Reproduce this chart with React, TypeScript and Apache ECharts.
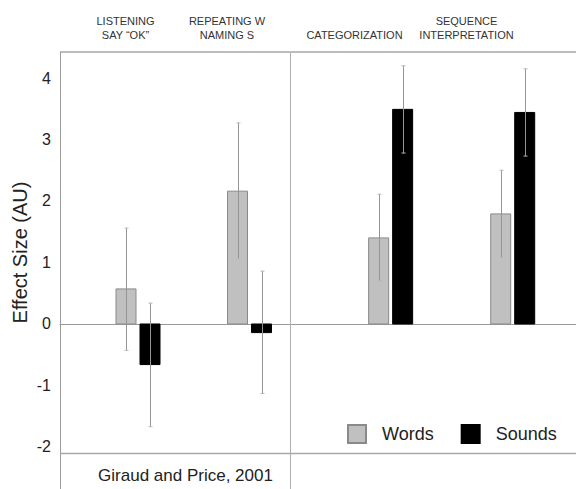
import { useEffect, useRef } from "react";
import * as echarts from "echarts";

// ---- data ----
const categories = ['LISTENING\nSAY “OK”', "REPEATING W\nNAMING S", "CATEGORIZATION", "SEQUENCE\nINTERPRETATION"];
const panelOf = [0, 0, 1, 1];
const seriesNames = ["Words", "Sounds"];
const wordsMean = [0.57, 2.16, 1.4, 1.79];
const wordsLow = [-0.43, 1.06, 0.7, 1.08];
const wordsHigh = [1.56, 3.27, 2.11, 2.5];
const soundsMean = [-0.66, -0.14, 3.49, 3.44];
const soundsLow = [-1.67, -1.13, 2.78, 2.73];
const soundsHigh = [0.34, 0.86, 4.2, 4.15];
const yTicks = [-2, -1, 0, 1, 2, 3, 4];
const yAxisTitle = "Effect Size (AU)";
const sourceNote = "Giraud and Price, 2001";

const FONT = "Liberation Sans, Arial, Helvetica, sans-serif";

export default function App() {
  const ref = useRef<HTMLDivElement>(null);

  useEffect(() => {
    if (!ref.current) return;
    const chart = echarts.init(ref.current, null, { renderer: "svg" });

    const Y_MIN = -2.098;
    const Y_MAX = 4.423;
    const xRanges = [
      { min: -0.6996, max: 1.3632 },
      { min: -0.8245, max: 1.5184 },
    ];
    const headerX = [125.5, 227, 354.5, 466.5];

    const panelData = (p: number, mean: number[], lo: number[], hi: number[]) => {
      const out: number[][] = [];
      let k = 0;
      for (let i = 0; i < categories.length; i++) {
        if (panelOf[i] !== p) continue;
        out.push([k, mean[i], lo[i], hi[i]]);
        k++;
      }
      return out;
    };

    const makeRender = (side: number, fill: string, stroke: string) => (params: any, api: any) => {
      const x = api.value(0);
      const m = api.value(1);
      const lo = api.value(2);
      const hi = api.value(3);
      const base = api.coord([x, 0]);
      const top = api.coord([x, m]);
      const pLo = api.coord([x, lo]);
      const pHi = api.coord([x, hi]);
      const c = base[0];
      const w = 20;
      const x0 = side < 0 ? c - 22 : c + 2;
      const bx = Math.round(x0 + w / 2) + 0.5;
      return {
        type: "group",
        children: [
          {
            type: "rect",
            shape: { x: x0, y: Math.min(base[1], top[1]), width: w, height: Math.abs(top[1] - base[1]) },
            style: { fill, stroke, lineWidth: 1 },
          },
          {
            type: "line",
            shape: { x1: bx, y1: pLo[1], x2: bx, y2: pHi[1] },
            style: { stroke: "#959595", lineWidth: 1 },
          },
          {
            type: "line",
            shape: { x1: bx - 2, y1: pLo[1], x2: bx + 2, y2: pLo[1] },
            style: { stroke: "#b8b8b8", lineWidth: 1 },
          },
          {
            type: "line",
            shape: { x1: bx - 2, y1: pHi[1], x2: bx + 2, y2: pHi[1] },
            style: { stroke: "#b8b8b8", lineWidth: 1 },
          },
        ],
      };
    };

    const wordsStyle = { color: "#c0c0c0", borderColor: "#8a8a8a", borderWidth: 1 };
    const soundsStyle = { color: "#000000", borderColor: "#000000", borderWidth: 1 };

    const series: any[] = [];
    [0, 1].forEach((p) => {
      series.push({
        type: "custom",
        name: seriesNames[0],
        xAxisIndex: p,
        yAxisIndex: p,
        itemStyle: wordsStyle,
        renderItem: makeRender(-1, wordsStyle.color, wordsStyle.borderColor),
        encode: { x: 0, y: [1, 2, 3] },
        data: panelData(p, wordsMean, wordsLow, wordsHigh),
        z: 3,
      });
      series.push({
        type: "custom",
        name: seriesNames[1],
        xAxisIndex: p,
        yAxisIndex: p,
        itemStyle: soundsStyle,
        renderItem: makeRender(1, soundsStyle.color, soundsStyle.borderColor),
        encode: { x: 0, y: [1, 2, 3] },
        data: panelData(p, soundsMean, soundsLow, soundsHigh),
        z: 3,
      });
    });

    const headerTexts = categories.map((c, i) => ({
      type: "text",
      x: headerX[i],
      y: 42,
      style: {
        text: c,
        fill: "#333",
        font: `11px ${FONT}`,
        align: "center",
        verticalAlign: "bottom",
        lineHeight: 14,
      },
    }));

    const option: any = {
      animation: false,
      backgroundColor: "#ffffff",
      textStyle: { fontFamily: FONT },
      grid: [
        { left: 60, top: 52, width: 230, height: 401 },
        { left: 290, top: 52, width: 287, height: 401 },
      ],
      xAxis: [0, 1].map((p) => ({
        type: "value",
        gridIndex: p,
        min: xRanges[p].min,
        max: xRanges[p].max,
        axisLine: { show: true, onZero: true, lineStyle: { color: "#9a9a9a", width: 1 } },
        axisTick: { show: false },
        axisLabel: { show: false },
        splitLine: { show: false },
      })),
      yAxis: [
        {
          type: "value",
          gridIndex: 0,
          min: Y_MIN,
          max: Y_MAX,
          axisLine: { show: false },
          axisTick: { show: false },
          splitLine: { show: false },
          axisLabel: {
            customValues: yTicks,
            color: "#222",
            fontSize: 16,
            fontFamily: FONT,
            margin: 9,
          },
          name: yAxisTitle,
          nameLocation: "middle",
          nameGap: 30,
          nameTextStyle: { fontSize: 20, color: "#222", fontFamily: FONT },
        },
        {
          type: "value",
          gridIndex: 1,
          min: Y_MIN,
          max: Y_MAX,
          show: false,
          splitLine: { show: false },
        },
      ],
      legend: {
        data: seriesNames,
        left: 347,
        top: 424,
        padding: 0,
        itemWidth: 18,
        itemHeight: 18,
        itemGap: 27,
        icon: "rect",
        textStyle: { fontSize: 18, color: "#222", fontFamily: FONT, padding: [0, 0, 0, 11] },
        selectedMode: false,
      },
      graphic: [
        { type: "line", shape: { x1: 60, y1: 52, x2: 576, y2: 52 }, style: { stroke: "#bdbdbd", lineWidth: 2 }, z: 10 },
        { type: "line", shape: { x1: 60.5, y1: 52, x2: 60.5, y2: 489 }, style: { stroke: "#9a9a9a", lineWidth: 1 }, z: 10 },
        { type: "line", shape: { x1: 290.5, y1: 52, x2: 290.5, y2: 489 }, style: { stroke: "#b0b0b0", lineWidth: 1 }, z: 10 },
        { type: "line", shape: { x1: 60, y1: 453.5, x2: 576, y2: 453.5 }, style: { stroke: "#a8a8a8", lineWidth: 1.5 }, z: 10 },
        ...headerTexts,
        {
          type: "text",
          x: 185.5,
          y: 475,
          style: {
            text: sourceNote,
            fill: "#222",
            font: `17px ${FONT}`,
            align: "center",
            verticalAlign: "middle",
          },
        },
      ],
      series,
    };

    chart.setOption(option);
    return () => chart.dispose();
  }, []);

  return <div ref={ref} style={{ position: "fixed", left: 0, top: 0, width: 576, height: 489 }} />;
}
